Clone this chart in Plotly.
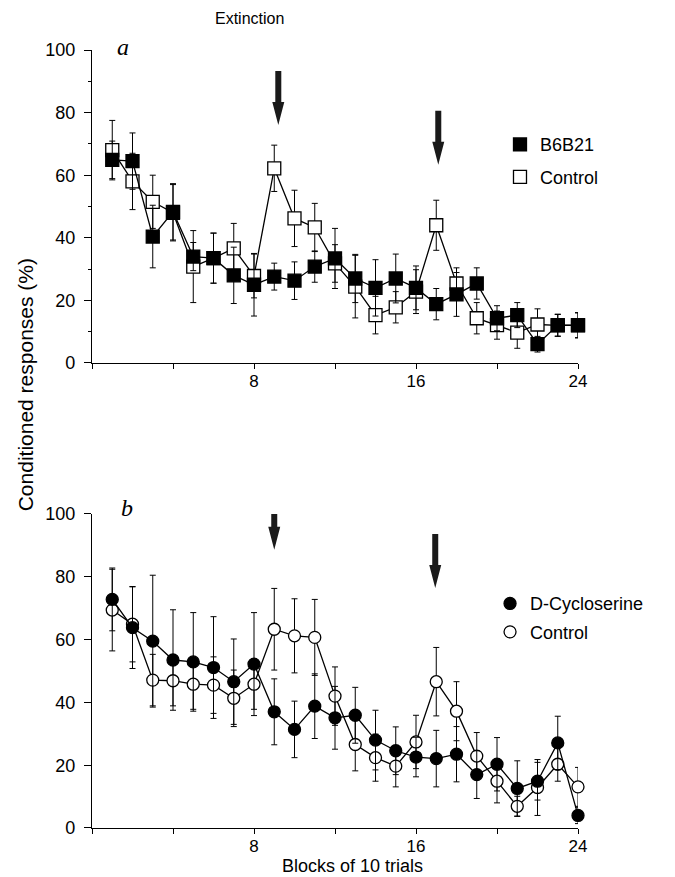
import plotly.graph_objects as go

# ---------------- data ----------------
blocks = list(range(1, 25))

# panel a: B6B21 (filled squares) vs control (open squares)
b6b21 = [64.9, 64.5, 40.4, 48.3, 34.0, 33.5, 28.0, 25.0, 27.6, 26.3, 30.8, 33.4,
         27.0, 24.0, 27.0, 24.0, 18.8, 21.9, 25.4, 14.3, 15.3, 6.0, 12.1, 12.1]
b6b21_err = [6, 9, 10, 9, 4.5, 8, 9, 10, 4.3, 6, 5, 9.6,
             7.7, 9, 7.8, 7, 5, 7, 5, 4, 4, 2.5, 3.5, 4]
control_a = [68.0, 58.0, 51.5, 48.0, 30.8, 33.5, 36.6, 27.8, 62.2, 46.2, 43.3, 31.8,
             24.4, 15.3, 17.8, 22.8, 44.0, 25.4, 14.3, 12.1, 9.7, 12.3, 12.0, 12.0]
control_a_err = [9.5, 9, 8.5, 9, 11.5, 8, 8, 7, 7.4, 9, 7.7, 6,
                 10, 6, 5, 7, 8, 5, 5, 4.5, 5, 5, 3.5, 4]

# panel b: D-Cycloserine (filled circles) vs control (open circles)
dcs = [72.8, 63.8, 59.5, 53.5, 52.9, 51.1, 46.6, 52.2, 37.0, 31.4, 38.8, 35.1,
       35.9, 28.0, 24.6, 22.6, 22.1, 23.5, 17.0, 20.3, 12.6, 14.9, 27.1, 4.0]
dcs_err = [10, 13, 21, 16, 15.7, 16.2, 13.6, 16.4, 10.5, 9, 10.3, 10,
           8.9, 9.5, 7.6, 6.3, 9, 8.8, 7.6, 8.5, 8.8, 6, 8.5, 2.6]
control_b = [69.4, 64.9, 47.1, 46.9, 45.8, 45.5, 41.3, 45.8, 63.3, 61.2, 60.7, 42.0,
             26.6, 22.4, 19.7, 27.4, 46.6, 37.2, 22.9, 14.9, 6.9, 12.9, 20.3, 13.1]
control_b_err = [13, 12, 8.2, 8, 8, 9, 9, 8, 13, 11.8, 12.1, 9.3,
                 8.4, 7.5, 6.6, 8.5, 10.9, 9.4, 7.5, 6.9, 3.2, 8.9, 5.4, 6.2]

x_tickvals = [0, 4, 8, 12, 16, 20, 24]
x_ticktext = ["", "", "8", "", "16", "", "24"]
y_tickvals = [0, 20, 40, 60, 80, 100]

# arrows: (block, tip value) per panel
arrows_a = [(9.2, 76), (17.1, 63.3)]
arrows_b = [(9.0, 88.6), (16.95, 76.4)]

# ---------------- figure ----------------
SANS = "Liberation Sans, Arial, Helvetica, sans-serif"
SERIF = "Liberation Serif, Times New Roman, serif"

fig = go.Figure()

def add_series(x, y, err, name, symbol, fill, xa, ya, legend, group, size, rank):
    fig.add_trace(go.Scatter(
        x=x, y=y, mode="lines", line=dict(color="black", width=1.3),
        xaxis=xa, yaxis=ya, showlegend=False, hoverinfo="skip", cliponaxis=False))
    fig.add_trace(go.Scatter(
        x=x, y=y, mode="markers", name=name,
        marker=dict(symbol=symbol, size=size, color=fill,
                    line=dict(color="black", width=1.3)),
        error_y=dict(type="data", array=err, color="black", thickness=1, width=3),
        xaxis=xa, yaxis=ya, legend=legend, legendgroup=group, legendrank=rank,
        cliponaxis=False))

# panel a (top)
add_series(blocks, control_a, control_a_err, "Control", "square", "white", "x", "y", "legend", "ca", 13, 2)
add_series(blocks, b6b21, b6b21_err, "B6B21", "square", "black", "x", "y", "legend", "b6", 13, 1)
# panel b (bottom)
add_series(blocks, control_b, control_b_err, "Control", "circle", "white", "x2", "y2", "legend2", "cb", 12, 2)
add_series(blocks, dcs, dcs_err, "D-Cycloserine", "circle", "black", "x2", "y2", "legend2", "dc", 12, 1)

xcommon = dict(range=[0, 24], tickvals=x_tickvals, ticktext=x_ticktext,
               ticks="outside", ticklen=5, tickwidth=1.2, tickcolor="black",
               showline=True, linecolor="black", linewidth=1.3, showgrid=False,
               zeroline=False, ticklabelstandoff=-3,
               tickfont=dict(family=SANS, size=17, color="black"))
ycommon = dict(range=[0, 100], tickvals=y_tickvals,
               ticks="outside", ticklen=7, tickwidth=1.2, tickcolor="black",
               showline=True, linecolor="black", linewidth=1.3, showgrid=False,
               zeroline=False, ticklabelstandoff=5,
               tickfont=dict(family=SANS, size=18, color="black"))

# page body has an 8px default margin; compensate so the plot sits where the reference has it
fig.update_layout(
    width=667, height=869,
    margin=dict(l=84, r=97, t=42, b=49),
    plot_bgcolor="white", paper_bgcolor="white",
    xaxis=dict(domain=[0, 1], anchor="y", **xcommon),
    yaxis=dict(domain=[0.5977, 1], anchor="x",
               minor=dict(tickvals=[10, 30, 50, 70, 90], ticks="outside", ticklen=3,
                          tickcolor="black"),
               **ycommon),
    xaxis2=dict(domain=[0, 1], anchor="y2", **xcommon),
    yaxis2=dict(domain=[0, 0.4036], anchor="x2", **ycommon),
    legend=dict(x=0.8395, y=0.902, xanchor="left", yanchor="top",
                traceorder="grouped", tracegroupgap=6,
                font=dict(family=SANS, size=18, color="black"),
                bgcolor="rgba(0,0,0,0)"),
    legend2=dict(x=0.819, y=0.312, xanchor="left", yanchor="top",
                 traceorder="grouped", tracegroupgap=2,
                 font=dict(family=SANS, size=18, color="black"),
                 bgcolor="rgba(0,0,0,0)"),
    showlegend=True,
)

# text annotations
fig.add_annotation(text="Extinction", xref="paper", yref="paper", x=0.325, y=1.041,
                   xanchor="center", yanchor="middle",
                   showarrow=False, font=dict(family=SANS, size=16, color="black"))
fig.add_annotation(text="<i>a</i>", xref="paper", yref="paper", x=0.064, y=1.004,
                   xanchor="center", yanchor="middle",
                   showarrow=False, font=dict(family=SERIF, size=24, color="black"))
fig.add_annotation(text="<i>b</i>", xref="paper", yref="paper", x=0.072, y=0.411,
                   xanchor="center", yanchor="middle",
                   showarrow=False, font=dict(family=SERIF, size=24, color="black"))
fig.add_annotation(text="Conditioned responses (%)", xref="paper", yref="paper",
                   x=-0.136, y=0.405, xanchor="center", yanchor="bottom", textangle=-90,
                   showarrow=False, font=dict(family=SANS, size=21, color="black"))
fig.add_annotation(text="Blocks of 10 trials", xref="paper", yref="paper",
                   x=0.535, y=-0.0488, xanchor="center", yanchor="middle", showarrow=False,
                   font=dict(family=SANS, size=18, color="black"))

# arrows as pixel-sized shapes anchored on data positions
ARROW_PATH = "M0,0 L-6,23 L-3,23 L-3,54 L3,54 L3,23 L6,23 Z"
def add_arrow(xv, yv, xref, yref):
    fig.add_shape(type="path", xref=xref, yref=yref, xsizemode="pixel",
                  ysizemode="pixel", xanchor=xv, yanchor=yv, path=ARROW_PATH,
                  fillcolor="#1a1a1a", line=dict(width=0))

for xv, yv in arrows_a:
    add_arrow(xv, yv, "x", "y")
for xv, yv in arrows_b:
    add_arrow(xv, yv, "x2", "y2")

fig.write_html("out.html")
